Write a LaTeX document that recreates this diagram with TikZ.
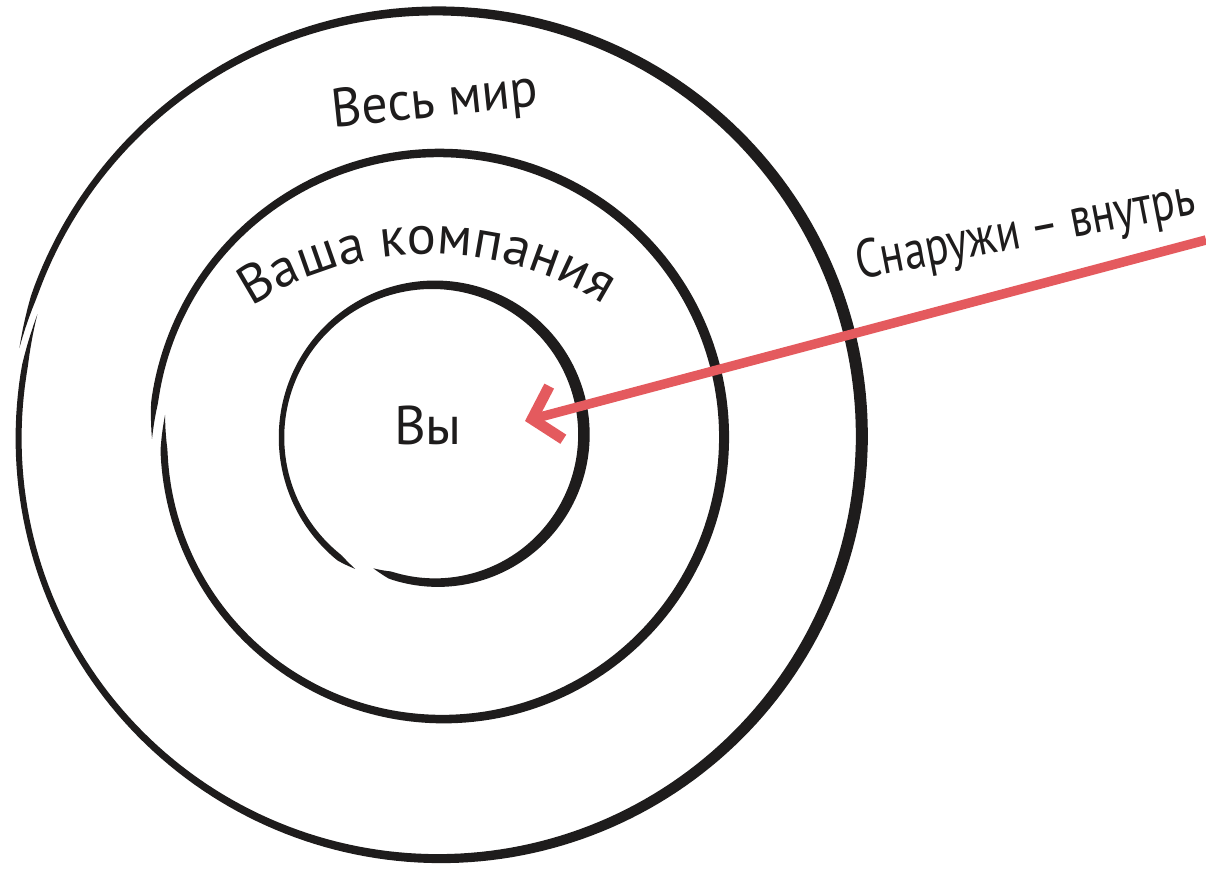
\documentclass[tikz,border=0pt]{standalone}
\usepackage{fontspec}
\setmainfont{PT Sans}
\usetikzlibrary{arrows.meta, decorations.text}
\definecolor{ink}{RGB}{30,28,28}
\definecolor{arrowred}{RGB}{228,90,94}
\newcommand\lblfont{\fontsize{31}{33}\selectfont}
% hand-drawn ring: centre x, centre y, start r, end r, start angle, end angle, width, extra width on the right
\newcommand\handring[8]{%
  \fill[ink] plot[domain=0:1, samples=260, variable=\pp]
    ({#1+(#3+\pp*(#4-#3)+0.5*(#7+#8*cos(#5+\pp*(#6-#5)))*min(1,\pp/0.02,(1-\pp)/0.02))*cos(#5+\pp*(#6-#5))},
     {#2+(#3+\pp*(#4-#3)+0.5*(#7+#8*cos(#5+\pp*(#6-#5)))*min(1,\pp/0.02,(1-\pp)/0.02))*sin(#5+\pp*(#6-#5))})
    -- plot[domain=0:1, samples=260, variable=\pp]
    ({#1+(#3+(1-\pp)*(#4-#3)-0.5*(#7+#8*cos(#5+(1-\pp)*(#6-#5)))*min(1,(1-\pp)/0.02,\pp/0.02))*cos(#5+(1-\pp)*(#6-#5))},
     {#2+(#3+(1-\pp)*(#4-#3)-0.5*(#7+#8*cos(#5+(1-\pp)*(#6-#5)))*min(1,(1-\pp)/0.02,\pp/0.02))*sin(#5+(1-\pp)*(#6-#5))})
    -- cycle;}

\begin{document}
\begin{tikzpicture}[
  x=0.02cm, y=0.02cm,
  lbl/.style={font=\lblfont, text=ink, inner sep=0pt},
  arr/.style={draw=arrowred, line width=5.4pt,
              -{Straight Barb[length=0.5cm, width=1.1cm, line width=6.2pt]}},
]
\useasboundingbox (0,0) rectangle (1206,871);
% rings, outer to inner
\handring{438}{434}{419}{428}{163}{528}{9}{3}
\handring{441}{432}{277}{289}{175}{540}{8.5}{1.5}
\handring{435}{435}{146}{155}{245}{599}{8.5}{3}
% labels
\node (world) [lbl, rotate=6, xscale=0.95] at (435,768) {Весь мир};
\coordinate (arcc) at (430,291);
\path [decorate, decoration={text along path, text align=center,
       text={|\lblfont\color{ink}|Ваша компания}}]
  (arcc) ++(122:326) arc[start angle=122, end angle=59, radius=326];
\node (you) [lbl] at (428,446) {Вы};
\node (outside) [lbl, rotate=11, xscale=0.8] at (1026,638) {Снаружи – внутрь};
% outside-in arrow
\coordinate (edge) at (1206,631);
\coordinate (tip)  at (525,450);
\draw [arr] (edge) -- (tip);
\end{tikzpicture}
\end{document}
